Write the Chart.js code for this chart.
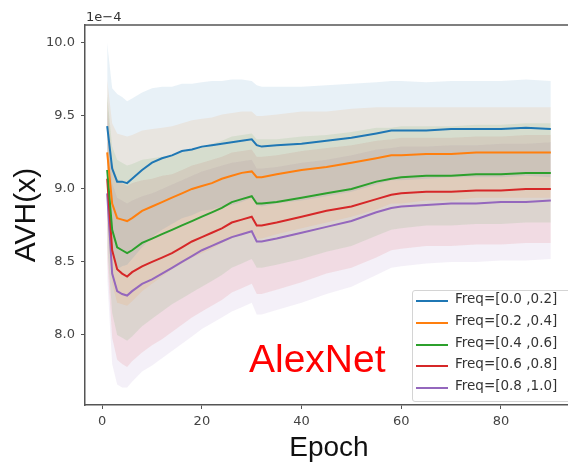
<!DOCTYPE html>
<html>
<head>
<meta charset="utf-8">
<script src="https://cdn.jsdelivr.net/npm/chart.js@4"></script>
<style>
  html, body { margin: 0; padding: 0; background: #fff; }
  #wrap { position: relative; width: 568px; height: 462px; overflow: hidden; }
  #chart { position: absolute; left: 0; top: 0; }
  .txt { position: absolute; white-space: nowrap; }
  #offset { left: 86px; top: 9px; font: 13px "DejaVu Sans"; color: #333; }
  #model { left: 249px; top: 337px; font: 39px "Liberation Sans"; color: #ff0000; }
  #legend { position: absolute; left: 412px; top: 290px; width: 162px; height: 110px;
            border: 1px solid #d4d4d4; border-radius: 3px; background: rgba(255,255,255,0.85); }
  .row { position: absolute; left: 0; height: 22px; line-height: 22px; font: 13.5px "DejaVu Sans"; color: #333; }
  .row i { position: absolute; left: 3px; top: 10px; width: 32px; height: 2px; }
  .row span { position: absolute; left: 42px; top: 0; white-space: nowrap; }
</style>
</head>
<body>
<div id="wrap">
  <canvas id="chart" width="576" height="462"></canvas>
  <div class="txt" id="offset">1e−4</div>
  <div class="txt" id="model">AlexNet</div>
  <div id="legend"></div>
</div>
<script>
// AVH(x) per frequency band over training epochs (values in units of 1e-4)
const epochs = [1, 2, 3, 4, 5, 6, 8, 10, 12, 14, 16, 18, 20, 22, 24, 26, 28, 30, 31, 32, 35, 40, 45, 50, 55, 58, 60, 65, 70, 75, 80, 85, 90];

const labels = ['Freq=[0.0 ,0.2]', 'Freq=[0.2 ,0.4]', 'Freq=[0.4 ,0.6]', 'Freq=[0.6 ,0.8]', 'Freq=[0.8 ,1.0]'];
const colors = ['#1f77b4', '#ff7f0e', '#2ca02c', '#d62728', '#9467bd'];

const freq00 = [9.43, 9.14, 9.05, 9.05, 9.04, 9.07, 9.13, 9.18, 9.21, 9.23, 9.26, 9.27, 9.29, 9.30, 9.31, 9.32, 9.33, 9.34, 9.30, 9.29, 9.30, 9.31, 9.33, 9.35, 9.38, 9.40, 9.40, 9.40, 9.41, 9.41, 9.41, 9.42, 9.41];
const freq02 = [9.25, 8.90, 8.80, 8.79, 8.78, 8.80, 8.85, 8.88, 8.91, 8.94, 8.97, 9.00, 9.02, 9.04, 9.07, 9.09, 9.11, 9.12, 9.08, 9.08, 9.10, 9.13, 9.15, 9.18, 9.21, 9.23, 9.23, 9.24, 9.24, 9.25, 9.25, 9.25, 9.25];
const freq04 = [9.13, 8.72, 8.60, 8.58, 8.56, 8.58, 8.63, 8.66, 8.69, 8.72, 8.75, 8.78, 8.81, 8.84, 8.87, 8.91, 8.93, 8.95, 8.90, 8.90, 8.91, 8.94, 8.97, 9.00, 9.05, 9.07, 9.08, 9.09, 9.09, 9.10, 9.10, 9.11, 9.11];
const freq06 = [9.07, 8.58, 8.45, 8.42, 8.40, 8.43, 8.47, 8.50, 8.53, 8.56, 8.60, 8.64, 8.67, 8.70, 8.73, 8.77, 8.79, 8.81, 8.75, 8.75, 8.77, 8.81, 8.85, 8.88, 8.93, 8.96, 8.97, 8.98, 8.98, 8.99, 8.99, 9.00, 9.00];
const freq08 = [8.97, 8.42, 8.30, 8.28, 8.27, 8.30, 8.35, 8.38, 8.42, 8.46, 8.50, 8.54, 8.58, 8.61, 8.64, 8.67, 8.69, 8.71, 8.64, 8.64, 8.66, 8.70, 8.74, 8.78, 8.84, 8.87, 8.88, 8.89, 8.90, 8.90, 8.91, 8.91, 8.92];

// spread of each band (shaded area half-width)
const std00 = [0.57, 0.55, 0.60, 0.58, 0.56, 0.55, 0.53, 0.51, 0.49, 0.47, 0.46, 0.45, 0.44, 0.44, 0.43, 0.43, 0.42, 0.40, 0.41, 0.41, 0.40, 0.39, 0.38, 0.37, 0.35, 0.34, 0.34, 0.33, 0.33, 0.33, 0.33, 0.33, 0.33];
const std02 = [0.50, 0.55, 0.58, 0.58, 0.58, 0.57, 0.55, 0.53, 0.51, 0.49, 0.48, 0.47, 0.46, 0.45, 0.44, 0.43, 0.42, 0.41, 0.42, 0.42, 0.41, 0.40, 0.38, 0.37, 0.35, 0.33, 0.33, 0.32, 0.32, 0.31, 0.31, 0.31, 0.31];
const std04 = [0.52, 0.57, 0.60, 0.60, 0.60, 0.59, 0.57, 0.55, 0.53, 0.51, 0.50, 0.49, 0.48, 0.47, 0.46, 0.45, 0.44, 0.43, 0.44, 0.44, 0.43, 0.42, 0.40, 0.39, 0.37, 0.35, 0.35, 0.34, 0.34, 0.34, 0.34, 0.34, 0.34];
const std06 = [0.55, 0.60, 0.62, 0.62, 0.62, 0.61, 0.59, 0.57, 0.56, 0.54, 0.53, 0.52, 0.51, 0.50, 0.49, 0.48, 0.47, 0.46, 0.47, 0.47, 0.46, 0.45, 0.43, 0.42, 0.40, 0.38, 0.38, 0.37, 0.37, 0.37, 0.37, 0.37, 0.37];
const std08 = [0.58, 0.62, 0.64, 0.64, 0.63, 0.62, 0.60, 0.59, 0.58, 0.57, 0.56, 0.55, 0.54, 0.53, 0.52, 0.51, 0.50, 0.49, 0.50, 0.50, 0.49, 0.48, 0.46, 0.45, 0.43, 0.41, 0.41, 0.40, 0.40, 0.40, 0.40, 0.40, 0.40];

const xTicks = [0, 20, 40, 60, 80];
const yTicks = [8.0, 8.5, 9.0, 9.5, 10.0];

const means = [freq00, freq02, freq04, freq06, freq08];
const stds = [std00, std02, std04, std06, std08];

function pts(vals) {
    return epochs.map((e, i) => ({ x: e, y: vals[i] }));
}

function rgba(hex, a) {
    const n = parseInt(hex.slice(1), 16);
    return 'rgba(' + (n >> 16) + ',' + ((n >> 8) & 255) + ',' + (n & 255) + ',' + a + ')';
}

const datasets = [];
// mean lines first so they end up drawn on top
means.forEach((m, k) => {
    datasets.push({
        label: labels[k],
        data: pts(m),
        borderColor: colors[k],
        borderWidth: 2,
        pointRadius: 0,
        tension: 0,
        fill: false
    });
});
// shaded bands: upper edge, then lower edge filled back to it
means.forEach((m, k) => {
    datasets.push({
        label: 'upper' + k,
        data: pts(m.map((v, i) => v + stds[k][i])),
        borderColor: 'transparent',
        borderWidth: 0,
        pointRadius: 0,
        fill: false
    });
    datasets.push({
        label: 'lower' + k,
        data: pts(m.map((v, i) => v - stds[k][i])),
        borderColor: 'transparent',
        borderWidth: 0,
        pointRadius: 0,
        backgroundColor: rgba(colors[k], 0.1),
        fill: '-1'
    });
});

// top/right spines like matplotlib's box
const spines = {
    id: 'spines',
    afterDatasetsDraw(chart) {
        const a = chart.chartArea;
        const ctx = chart.ctx;
        ctx.save();
        ctx.strokeStyle = '#555';
        ctx.lineWidth = 1.5;
        ctx.beginPath();
        ctx.moveTo(a.left, a.top);
        ctx.lineTo(a.right, a.top);
        ctx.lineTo(a.right, a.bottom);
        ctx.stroke();
        ctx.restore();
    }
};

new Chart(document.getElementById('chart').getContext('2d'), {
    type: 'line',
    data: { datasets: datasets },
    options: {
        responsive: false,
        animation: false,
        devicePixelRatio: 1,
        layout: { padding: { top: 25, right: 3, left: 0, bottom: 0 } },
        plugins: { legend: { display: false }, tooltip: { enabled: false } },
        scales: {
            x: {
                type: 'linear',
                min: -3.45,
                max: 94.45,
                afterFit: s => { s.height = 57; },
                afterBuildTicks: s => { s.ticks = xTicks.map(v => ({ value: v })); },
                border: { display: true, color: '#555', width: 1.5 },
                grid: { drawOnChartArea: false, drawTicks: true, tickLength: 4, color: '#555' },
                ticks: { padding: 5, color: '#444', font: { family: 'DejaVu Sans', size: 13 } },
                title: {
                    display: true, text: 'Epoch', color: '#111',
                    font: { family: 'Liberation Sans', size: 28, lineHeight: 1.0 },
                    padding: { top: 0, bottom: 0 }
                }
            },
            y: {
                min: 7.52,
                max: 10.123,
                afterFit: s => { s.width = 85; },
                afterBuildTicks: s => { s.ticks = yTicks.map(v => ({ value: v })); },
                border: { display: true, color: '#555', width: 1.5 },
                grid: { drawOnChartArea: false, drawTicks: true, tickLength: 4, color: '#555' },
                ticks: {
                    padding: 6, color: '#444', font: { family: 'DejaVu Sans', size: 13 },
                    callback: v => v.toFixed(1)
                },
                title: {
                    display: true, text: 'AVH(x)', color: '#111',
                    font: { family: 'Liberation Sans', size: 30, lineHeight: 1.0 },
                    padding: { top: 12, bottom: 0 }
                }
            }
        }
    },
    plugins: [spines]
});

// legend box, built from the same labels/colours
const leg = document.getElementById('legend');
labels.forEach((lab, k) => {
    const row = document.createElement('div');
    row.className = 'row';
    row.style.top = (-1 + k * 21.8) + 'px';
    row.innerHTML = '<i style="background:' + colors[k] + '"></i><span>' + lab + '</span>';
    leg.appendChild(row);
});
</script>
</body>
</html>
